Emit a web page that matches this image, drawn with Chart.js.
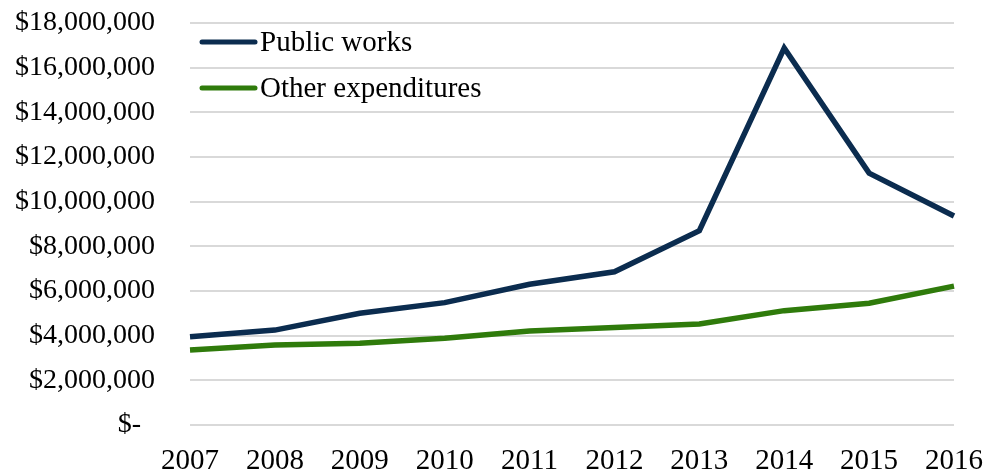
<!DOCTYPE html>
<html>
<head>
<meta charset="utf-8">
<script src="https://cdn.jsdelivr.net/npm/chart.js@4/dist/chart.umd.min.js"></script>
<style>
  html, body { margin: 0; padding: 0; background: #fff; }
  #wrap { width: 985px; height: 473px; }
</style>
</head>
<body>
<div id="wrap"><canvas id="chart" width="985" height="473"></canvas></div>
<script>
const years = ["2007", "2008", "2009", "2010", "2011", "2012", "2013", "2014", "2015", "2016"];
const publicWorks = [3950000, 4250000, 5000000, 5480000, 6300000, 6860000, 8700000, 16880000, 11280000, 9360000];
const otherExpenditures = [3360000, 3580000, 3660000, 3880000, 4210000, 4370000, 4520000, 5120000, 5450000, 6220000];
const seriesNames = ["Public works", "Other expenditures"];

const fontFamily = "'Liberation Serif', 'Times New Roman', serif";

function formatMoney(v) {
  if (v === 0) return "$-  ";
  return "$" + v.toLocaleString("en-US");
}

// legend sits inside the plot, top-left
const insideLegend = {
  id: "insideLegend",
  afterDraw(chart) {
    const ctx = chart.ctx;
    const rows = [42, 88];
    ctx.save();
    chart.data.datasets.forEach((ds, i) => {
      const y = rows[i];
      ctx.strokeStyle = ds.borderColor;
      ctx.lineWidth = 5;
      ctx.lineCap = "round";
      ctx.beginPath();
      ctx.moveTo(202, y);
      ctx.lineTo(255, y);
      ctx.stroke();
      ctx.fillStyle = "#000";
      ctx.font = "29px " + fontFamily;
      ctx.textBaseline = "middle";
      ctx.textAlign = "left";
      ctx.fillText(ds.label, 260, y + 1);
    });
    ctx.restore();
  },
};

const ctx = document.getElementById("chart").getContext("2d");
new Chart(ctx, {
  type: "line",
  data: {
    labels: years,
    datasets: [
      {
        label: seriesNames[0],
        data: publicWorks,
        borderColor: "#0b2c4f",
        borderWidth: 5.5,
        pointRadius: 0,
        tension: 0,
      },
      {
        label: seriesNames[1],
        data: otherExpenditures,
        borderColor: "#2f7b0b",
        borderWidth: 5.5,
        pointRadius: 0,
        tension: 0,
      },
    ],
  },
  options: {
    responsive: false,
    animation: false,
    layout: { padding: { left: 0, right: 31, top: 23, bottom: 0 } },
    plugins: {
      legend: { display: false },
      tooltip: { enabled: false },
    },
    scales: {
      x: {
        offset: false,
        grid: { display: false },
        border: { display: false },
        ticks: {
          color: "#000",
          font: { family: fontFamily, size: 29 },
          padding: 11,
          maxRotation: 0,
        },
        afterFit: (scale) => {
          scale.height = 48;
          scale.paddingLeft = 0;
          scale.paddingRight = 0;
        },
      },
      y: {
        min: 0,
        max: 18000000,
        grid: { color: "#d9d9d9", lineWidth: 2, drawTicks: false },
        border: { display: false },
        ticks: {
          stepSize: 2000000,
          color: "#000",
          font: { family: fontFamily, size: 28 },
          padding: 35,
          callback: (v) => formatMoney(v),
        },
        afterFit: (scale) => {
          scale.width = 190;
          scale.paddingTop = 0;
          scale.paddingBottom = 0;
        },
      },
    },
  },
  plugins: [insideLegend],
});
</script>
</body>
</html>
